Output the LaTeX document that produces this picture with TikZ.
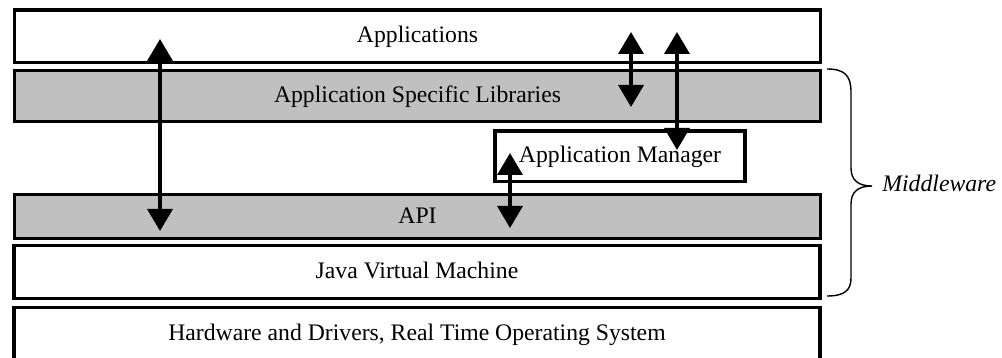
\documentclass[tikz,border=0pt]{standalone}
\usepackage{fontspec}
\setmainfont{Liberation Serif}
\usetikzlibrary{arrows.meta}
\definecolor{layergray}{HTML}{C0C0C0}
\tikzset{
  layer/.style={draw, line width=1.65pt, fill=white, inner sep=0pt,
    minimum width=403pt, text height=0.66em, text depth=0pt,
    font=\fontsize{11.85pt}{14pt}\selectfont},
  graylayer/.style={layer, fill=layergray},
  link/.style={line width=1.8pt, {Triangle[length=11pt,width=12.5pt]}-{Triangle[length=11pt,width=12.5pt]}},
  bracepath/.style={line width=0.7pt},
  bracelabel/.style={inner sep=0pt, anchor=west, text height=0.66em, text depth=0pt,
    font=\fontsize{11.85pt}{14pt}\selectfont\itshape}
}
\begin{document}
\begin{tikzpicture}[x=0.5pt, y=-0.5pt]
\useasboundingbox (0,0) rectangle (1002,358);

% software stack
\node[layer, minimum height=26.25pt] (app) at (417.5,36.25) {Applications};
\node[graylayer, minimum height=25.5pt] (asl) at (417.5,96) {Application Specific Libraries};
\node[layer, minimum width=125pt, minimum height=25.25pt] (mgr) at (620,156.25) {Application Manager};
\node[graylayer, minimum height=22.25pt] (api) at (417.5,216.5) {API};
\node[layer, minimum height=26.5pt] (jvm) at (417,272) {Java Virtual Machine};
\node[layer, minimum height=26pt] (hw) at (417,333.5) {Hardware and Drivers, Real Time Operating System};

% arrow end points
\coordinate (a1t) at (160,39);  \coordinate (a1b) at (160,231);
\coordinate (a2t) at (631,32);  \coordinate (a2b) at (631,107);
\coordinate (a3t) at (677,32);  \coordinate (a3b) at (677,150);
\coordinate (a4t) at (510,153); \coordinate (a4b) at (510,228);

\draw[link] (a1t) -- (a1b);
\draw[link] (a2t) -- (a2b);
\draw[link] (a3t) -- (a3b);
\draw[link] (a4t) -- (a4b);

% middleware brace
\coordinate (btop) at (827,69);
\coordinate (btip) at (872,186);
\coordinate (bbot) at (827,296);
\draw[bracepath] (btop) .. controls (845,69) and (851,76) .. (851,92)
  -- (851,168) .. controls (851,180) and (858,186) .. (btip)
  .. controls (858,186) and (851,192) .. (851,204)
  -- (851,278) .. controls (851,290) and (845,296) .. (bbot);
\node[bracelabel] (mw) at (882,185) {Middleware};
\end{tikzpicture}
\end{document}
